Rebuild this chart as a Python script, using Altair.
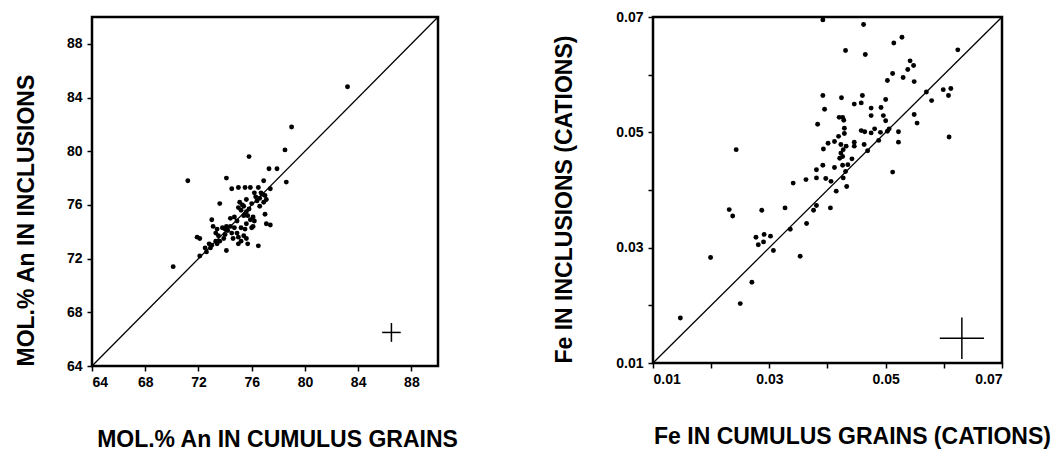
import altair as alt
import pandas as pd

# ---------------- Left panel: MOL.% An ----------------
an_cumulus = [
    83.2, 79.0, 78.5, 78.6, 77.9, 77.3, 75.8, 71.2, 70.1,
    74.1, 76.9, 74.5, 75.0, 75.5, 75.9, 76.5, 77.4, 76.2, 76.7, 77.0,
    77.1, 76.6, 76.4, 76.9, 76.6, 73.6, 75.1, 75.4, 75.0, 75.2,
    75.6, 75.5, 75.7, 75.4, 75.9, 76.1, 74.7, 74.9, 74.4, 77.0,
    77.1, 77.4, 76.2, 75.6, 76.0, 73.0, 73.1, 73.4, 73.3, 73.8,
    74.0, 74.1, 74.4, 74.2, 74.5, 74.7, 74.9, 75.2, 75.5, 75.4,
    75.6, 75.0, 74.6, 74.0, 73.9, 73.5, 73.6, 73.3, 73.4, 72.8,
    72.9, 73.0, 72.5, 72.6, 72.1, 71.9, 72.1, 74.1, 75.0, 75.2,
    75.7, 76.5, 76.1, 75.3, 75.8, 76.3, 76.8, 76.0, 75.6,
]
an_inclusions = [
    84.8, 81.8, 80.1, 77.7, 78.7, 78.7, 79.6, 77.8, 71.4,
    78.0, 77.8, 77.2, 77.3, 77.3, 77.3, 77.3, 77.2, 76.9, 76.9, 76.7,
    76.4, 76.5, 76.3, 76.2, 75.9, 76.1, 76.2, 75.9, 75.8, 75.6,
    75.5, 75.3, 75.2, 75.2, 74.9, 75.1, 75.1, 74.8, 75.0, 75.3,
    74.6, 74.5, 74.8, 74.6, 74.3, 74.9, 74.4, 74.2, 73.9, 74.3,
    74.2, 74.4, 74.4, 74.1, 73.9, 74.3, 73.9, 74.3, 74.2, 73.7,
    73.5, 73.6, 73.5, 73.8, 73.5, 73.7, 73.3, 73.3, 73.1, 73.1,
    72.8, 73.0, 72.8, 72.5, 72.2, 73.6, 73.5, 72.6, 73.1, 73.3,
    73.1, 72.95, 74.4, 76.0, 75.7, 76.6, 76.8, 76.1, 76.4,
]

# ---------------- Right panel: Fe (cations) ----------------
fe_cumulus = [
    0.0392, 0.0462, 0.0528, 0.0514, 0.0624, 0.0431, 0.0465, 0.0542, 0.0548, 0.0538,
    0.0512, 0.0530, 0.0549, 0.0503, 0.0570, 0.0599, 0.0612, 0.0608, 0.0579, 0.0392,
    0.0424, 0.0460, 0.0500, 0.0446, 0.0458, 0.0395, 0.0475, 0.0492, 0.0475, 0.0496,
    0.0500, 0.0420, 0.0426, 0.0428, 0.0383, 0.0549, 0.0554, 0.0429, 0.0429, 0.0458,
    0.0464, 0.0475, 0.0481, 0.0491, 0.0503, 0.0506, 0.0522, 0.0488, 0.0522, 0.0609,
    0.0419, 0.0401, 0.0412, 0.0393, 0.0423, 0.0427, 0.0432, 0.0446, 0.0446, 0.0463,
    0.0423, 0.0421, 0.0426, 0.0442, 0.0469, 0.0392, 0.0426, 0.0435, 0.0412, 0.0381,
    0.0512, 0.0363, 0.0381, 0.0397, 0.0427, 0.0431, 0.0341, 0.0406, 0.0433, 0.0415,
    0.0243, 0.0231, 0.0237, 0.0287, 0.0327, 0.0376, 0.0381, 0.0405, 0.0364, 0.0336,
    0.0277, 0.0281, 0.0290, 0.0291, 0.0302, 0.0307, 0.0353, 0.0199, 0.0270, 0.0250,
    0.0147,
]
fe_inclusions = [
    0.0695, 0.0687, 0.0665, 0.0655, 0.0643, 0.0642, 0.0635, 0.0624, 0.0616, 0.0609,
    0.0602, 0.0595, 0.0588, 0.0590, 0.0570, 0.0574, 0.0576, 0.0564, 0.0555, 0.0564,
    0.0560, 0.0564, 0.0557, 0.0549, 0.0551, 0.0540, 0.0542, 0.0543, 0.0529, 0.0529,
    0.0520, 0.0526, 0.0526, 0.0521, 0.0514, 0.0531, 0.0516, 0.0507, 0.0498, 0.0503,
    0.0501, 0.0499, 0.0506, 0.0500, 0.0502, 0.0506, 0.0501, 0.0486, 0.0483, 0.0492,
    0.0493, 0.0481, 0.0484, 0.0471, 0.0479, 0.0470, 0.0476, 0.0483, 0.0476, 0.0479,
    0.0464, 0.0455, 0.0458, 0.0454, 0.0468, 0.0443, 0.0443, 0.0444, 0.0439, 0.0435,
    0.0431, 0.0418, 0.0421, 0.0420, 0.0421, 0.0432, 0.0412, 0.0415, 0.0406, 0.0398,
    0.0470, 0.0366, 0.0355, 0.0365, 0.0369, 0.0365, 0.0373, 0.0369, 0.0342, 0.0332,
    0.0318, 0.0305, 0.0310, 0.0323, 0.0320, 0.0295, 0.0285, 0.0283, 0.0240, 0.0203,
    0.0178,
]

# axis ranges, 1:1 lines and error crosses
an_domain = [64, 90]
fe_domain = [0.01, 0.07]
an_ticks = [64, 66, 68, 70, 72, 74, 76, 78, 80, 82, 84, 86, 88]
fe_ticks = [0.01, 0.02, 0.03, 0.04, 0.05, 0.06, 0.07]
fe_label_ticks = ["0.01", "0.03", "0.05", "0.07"]
an_cross = {"x": 86.5, "y": 66.5, "dx": 0.7, "dy": 0.7}
fe_cross = {"x": 0.0631, "y": 0.0143, "dx": 0.0038, "dy": 0.0036}

FONT = "Liberation Sans"


def axis(title, values, label_expr, fmt=None, orient="x", title_pos=0, title_len=0):
    kw = dict(
        values=values, labelExpr=label_expr, title=title,
        titleFont=FONT, titleFontSize=23, titleFontWeight="bold", titleColor="black",
        labelFont=FONT, labelFontSize=14, labelFontWeight="bold", labelColor="black",
        tickSize=5, tickWidth=1.5, tickColor="black", domain=False, grid=False,
        labelPadding=4 if orient == "x" else 5,
    )
    if fmt:
        kw["format"] = fmt
    if orient == "x":
        kw.update(titleX=title_pos, titleY=80, titleAlign="center", titleBaseline="alphabetic")
    else:
        kw.update(titleX=title_pos, titleY=title_len, titleAngle=270, titleAlign="left",
                  titleBaseline="middle")
    return alt.Axis(**kw)


def panel(xs, ys, domain, cross, xaxis, yaxis, w, h, xn, yn):
    df = pd.DataFrame({xn: xs, yn: ys})
    sx = alt.Scale(domain=domain, nice=False, zero=False)
    sy = alt.Scale(domain=domain, nice=False, zero=False)
    pts = alt.Chart(df).mark_circle(size=24, color="black", opacity=1).encode(
        x=alt.X(f"{xn}:Q", scale=sx, axis=xaxis),
        y=alt.Y(f"{yn}:Q", scale=sy, axis=yaxis),
    )
    ldf = pd.DataFrame({xn: domain, yn: domain})
    line = alt.Chart(ldf).mark_line(color="black", strokeWidth=1.3).encode(
        x=alt.X(f"{xn}:Q", scale=sx), y=alt.Y(f"{yn}:Q", scale=sy)
    )
    cdf = pd.DataFrame({
        "cx1": [cross["x"] - cross["dx"]], "cx2": [cross["x"] + cross["dx"]],
        "cy1": [cross["y"] - cross["dy"]], "cy2": [cross["y"] + cross["dy"]],
        "cx": [cross["x"]], "cy": [cross["y"]],
    })
    hbar = alt.Chart(cdf).mark_rule(color="black", strokeWidth=1.5).encode(
        x=alt.X("cx1:Q", scale=sx), x2="cx2:Q", y=alt.Y("cy:Q", scale=sy)
    )
    vbar = alt.Chart(cdf).mark_rule(color="black", strokeWidth=1.5).encode(
        x=alt.X("cx:Q", scale=sx), y=alt.Y("cy1:Q", scale=sy), y2="cy2:Q"
    )
    return alt.layer(line, pts, hbar, vbar).properties(
        width=w, height=h,
        view=alt.ViewBackground(stroke="black", strokeWidth=2.5, fill="white"),
    )


left = panel(
    an_cumulus, an_inclusions, an_domain, an_cross,
    axis("MOL.% An IN CUMULUS GRAINS", an_ticks,
         "datum.value % 4 == 0 ? datum.label : ''", orient="x", title_pos=185),
    axis("MOL.% An IN INCLUSIONS", an_ticks,
         "datum.value % 4 == 0 ? datum.label : ''", orient="y", title_pos=-66, title_len=349),
    346, 349, "an_cum", "an_inc",
)
right = panel(
    fe_cumulus, fe_inclusions, fe_domain, fe_cross,
    axis("Fe IN CUMULUS GRAINS (CATIONS)", fe_ticks,
         "indexof(['0.01','0.03','0.05','0.07'], datum.label) >= 0 ? datum.label : ''",
         fmt=".2f", orient="x", title_pos=199),
    axis("Fe IN INCLUSIONS (CATIONS)", fe_ticks,
         "indexof(['0.01','0.03','0.05','0.07'], datum.label) >= 0 ? datum.label : ''",
         fmt=".2f", orient="y", title_pos=-89, title_len=346),
    349, 346, "fe_cum", "fe_inc",
)

chart = alt.hconcat(left, right, spacing=215, bounds="flush").resolve_scale(
    x="independent", y="independent"
).properties(
    padding={"left": 5, "top": 0, "right": 0, "bottom": 0}
).configure(
    background="white"
).configure_view(
    stroke="black", strokeWidth=2.5
)

chart.save("out.html", embed_options={"renderer": "svg", "actions": False})
